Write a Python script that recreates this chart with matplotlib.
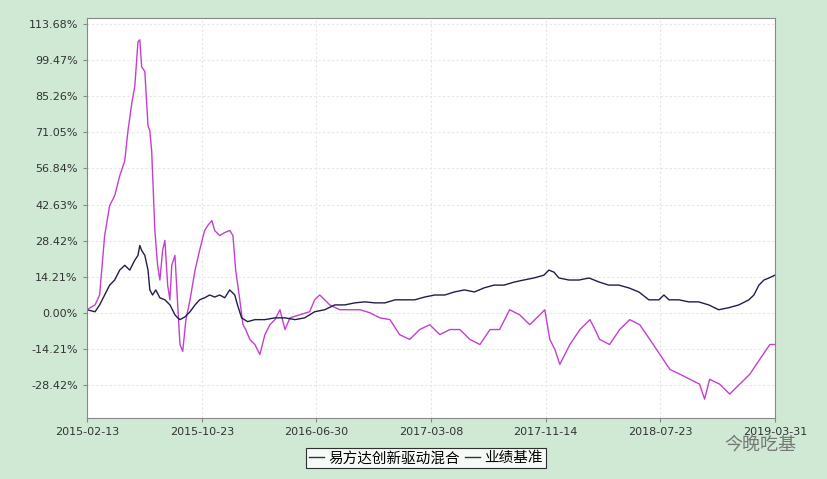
import numpy as np
import pandas as pd
import matplotlib.pyplot as plt

plt.rcParams['font.family'] = ['Noto Sans CJK SC', 'DejaVu Sans']

start = pd.Timestamp("2015-02-13")

# fund: (day offset, cumulative return %)
fund_days = [0, 18, 28, 39, 50, 61, 72, 83, 90, 99, 105, 112, 116, 120, 127, 134, 138, 142, 149, 155,
             160, 166, 171, 177, 182, 186, 193, 199, 204, 210, 217, 226, 237, 247, 258, 265, 274, 280, 291, 302,
             313, 320, 326, 335, 342, 348, 357, 368, 379, 390, 401, 412, 423, 434, 445, 466, 488, 499, 510, 521,
             532, 554, 576, 598, 620, 642, 664, 685, 707, 729, 751, 773, 795, 817, 839, 861, 883, 904, 915, 926,
             948, 970, 992, 1003, 1014, 1025, 1036, 1047, 1058, 1080, 1102, 1113, 1123, 1145, 1167, 1189, 1211,
             1233, 1255, 1277, 1299, 1321, 1342, 1353, 1364, 1386, 1408, 1430, 1452, 1474, 1496, 1507]
fund_vals = [1.2, 3.1, 7.0, 30.4, 42.2, 46.1, 53.9, 59.8, 71.5, 83.2, 89.1, 106.7, 107.5, 96.9, 95.0, 73.6,
             71.6, 63.8, 32.4, 18.7, 12.9, 24.6, 28.5, 10.9, 5.1, 18.7, 22.6, 3.1, -12.5, -15.2, -2.7, 5.1, 16.8,
             24.6, 32.4, 34.4, 36.3, 32.4, 30.4, 31.6, 32.4, 30.4, 16.8, 5.1, -4.7, -6.6, -10.5, -12.5, -16.4,
             -8.6, -4.7, -2.7, 1.2, -6.6, -2.0, -0.8, 0.4, 5.1, 7.0, 5.1, 3.1, 1.2, 1.2, 1.2, 0.0, -2.0, -2.7,
             -8.6, -10.5, -6.6, -4.7, -8.6, -6.6, -6.6, -10.5, -12.5, -6.6, -6.6, -2.7, 1.2, -0.8, -4.7, -0.8,
             1.2, -10.5, -14.4, -20.3, -16.4, -12.5, -6.6, -2.7, -6.6, -10.5, -12.5, -6.6, -2.7, -4.7, -10.5,
             -16.4, -22.3, -24.2, -26.2, -28.1, -34.0, -26.2, -28.1, -32.0, -28.1, -24.2, -18.3, -12.5, -12.5]

# benchmark
bench_days = [0, 18, 28, 39, 50, 61, 72, 83, 94, 105, 112, 116, 120, 127, 134, 138, 144, 151, 160, 171, 182,
              193, 199, 204, 215, 226, 237, 247, 258, 269, 280, 291, 302, 313, 324, 330, 339, 352, 368, 390, 412,
              434, 456, 477, 499, 521, 543, 565, 587, 609, 631, 653, 675, 696, 718, 740, 762, 784, 805, 827, 849,
              870, 892, 914, 936, 957, 979, 1001, 1012, 1023, 1034, 1056, 1078, 1100, 1122, 1143, 1165, 1187,
              1209, 1231, 1253, 1264, 1275, 1297, 1318, 1340, 1362, 1384, 1406, 1428, 1450, 1461, 1472, 1483,
              1494, 1507]
bench_vals = [1.2, 0.4, 3.1, 7.0, 10.9, 12.9, 16.8, 18.7, 16.8, 20.7, 22.6, 26.5, 24.6, 22.6, 16.8, 9.0, 7.0,
              9.0, 5.9, 5.1, 3.1, -0.8, -2.0, -2.7, -1.6, 0.4, 3.1, 5.1, 5.9, 7.0, 6.2, 7.0, 5.9, 9.0, 7.0, 3.1,
              -2.0, -3.5, -2.7, -2.7, -2.0, -2.0, -2.7, -2.0, 0.4, 1.2, 3.1, 3.1, 3.9, 4.3, 3.9, 3.9, 5.1, 5.1,
              5.1, 6.2, 7.0, 7.0, 8.2, 9.0, 8.2, 9.8, 10.9, 10.9, 12.1, 12.9, 13.7, 14.8, 16.8, 16.0, 13.7, 12.9,
              12.9, 13.7, 12.1, 10.9, 10.9, 9.8, 8.2, 5.1, 5.1, 7.0, 5.1, 5.1, 4.3, 4.3, 3.1, 1.2, 2.0, 3.1, 5.1,
              7.0, 10.9, 12.9, 13.7, 14.8]

xtick_labels = ["2015-02-13", "2015-10-23", "2016-06-30", "2017-03-08", "2017-11-14", "2018-07-23", "2019-03-31"]
ytick_vals = [-28.42, -14.21, 0.00, 14.21, 28.42, 42.63, 56.84, 71.05, 85.26, 99.47, 113.68]

fund_dates = start + pd.to_timedelta(fund_days, unit="D")
bench_dates = start + pd.to_timedelta(bench_days, unit="D")

fig = plt.figure(figsize=(8.27, 4.79), dpi=100, facecolor="#cfe9d5")
ax = fig.add_axes([0.105, 0.127, 0.832, 0.835])
ax.set_facecolor("white")

ax.plot(fund_dates, fund_vals, color="#c43fd0", lw=1.0, label="易方达创新驱动混合")
ax.plot(bench_dates, bench_vals, color="#1f1f4a", lw=1.0, label="业绩基准")

xt = pd.to_datetime(xtick_labels)
ax.set_xlim(start, pd.Timestamp("2019-03-31"))
ax.set_xticks(xt)
ax.set_xticklabels(xtick_labels, fontsize=8, color="#333333", family="DejaVu Sans")
ax.set_ylim(-41.5, 116)
ax.set_yticks(ytick_vals)
ax.set_yticklabels([f"{v:.2f}%" for v in ytick_vals], fontsize=8, color="#333333", family="DejaVu Sans")
ax.grid(True, color="#e6e6e6", lw=0.8, ls=(0, (2, 2)))
ax.tick_params(length=3, color="#888888")
for s in ax.spines.values():
    s.set_color("#888888")

leg = fig.legend(loc="center", bbox_to_anchor=(0.515, 0.043), ncol=2, fontsize=10.5, frameon=True,
                 fancybox=False, edgecolor="black", handlelength=1.0, handletextpad=0.3,
                 columnspacing=0.4, borderpad=0.2)
leg.get_frame().set_linewidth(0.8)
for h in leg.get_lines():
    h.set_color("#333333")

fig.text(0.92, 0.07, "今晚吃基", fontsize=13, color="#777777", ha="center", va="center")

fig.savefig("out.png", dpi=100, facecolor=fig.get_facecolor())
